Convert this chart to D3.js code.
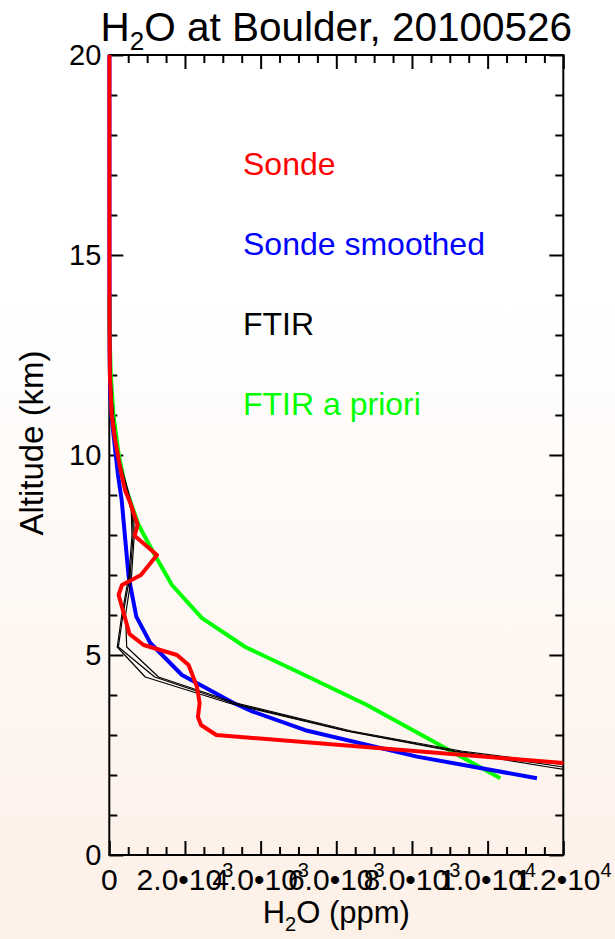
<!DOCTYPE html>
<html>
<head>
<meta charset="utf-8">
<script src="https://cdn.jsdelivr.net/npm/d3@7"></script>
<style>
html, body { margin: 0; padding: 0; }
body { width: 615px; height: 939px; overflow: hidden; }
text { font-family: "Liberation Sans", Arial, Helvetica, sans-serif; }
</style>
</head>
<body>
<svg id="chart" width="615" height="939"></svg>
<script>
// altitude (km) / H2O (ppm)
const sondeAlt = [20, 17, 15, 13.5, 12.05, 11.0, 10.4, 9.7, 9.12, 8.8, 8.25, 7.98, 7.5, 7.0, 6.75, 6.5, 5.52, 5.25, 5.0, 4.75, 4.2, 3.8, 3.45, 3.25, 3.0, 2.3, 2.2]
const sondeH2O = [3, 3, 4, 5, 15, 63, 150, 283, 415, 555, 748, 669, 1260, 837, 335, 246, 537, 907, 1789, 2096, 2318, 2387, 2344, 2424, 2828, 12000, 13300]

const smoothAlt = [20, 15, 12.5, 11.5, 10.95, 10.1, 9.5, 8.875, 7.9, 6.96, 5.96, 5.3, 4.5, 3.8, 3.6, 3.12, 2.46, 1.92]
const smoothH2O = [3, 4, 8, 25, 60, 159, 230, 327, 420, 511, 714, 1084, 1921, 3285, 3750, 5180, 8132, 11304]

const ftirAlt = [20, 14, 12, 11, 10, 9.2, 8.6, 8.0, 7.0, 6.0, 5.2, 4.45, 3.8, 3.1, 2.6, 2.2, 1.9]
const ftirH2O_1 = [2, 5, 30, 90, 200, 420, 580, 600, 520, 330, 210, 950, 3150, 6250, 9050, 11600, 13800]
const ftirH2O_2 = [2, 5, 35, 100, 215, 440, 610, 630, 550, 360, 240, 1200, 3250, 6300, 9150, 12000, 14400]
const ftirH2O_3 = [2, 5, 40, 110, 230, 470, 640, 660, 590, 430, 460, 1300, 3350, 6400, 9300, 12500, 15200]

const aprioriAlt = [14, 13, 12, 11, 10, 9.2, 8.25, 7.55, 6.75, 5.92, 5.2, 4.55, 3.75, 1.92]
const aprioriH2O = [5, 10, 40, 110, 250, 423, 775, 1172, 1656, 2450, 3595, 5048, 6811, 10335]

const xMajor = [0, 2000, 4000, 6000, 8000, 10000, 12000]
const yMajor = [0, 5, 10, 15, 20]

const legendNames = ['Sonde', 'Sonde smoothed', 'FTIR', 'FTIR a priori']
const legendColors = ['#ff0000', '#0000ff', '#000000', '#00ff00']

const W = 615, H = 939
const plot = {left: 109.3, right: 563.3, top: 55, bottom: 855}

const svg = d3.select('#chart')

// background fades from white to a pale peach
const defs = svg.append('defs')
const grad = defs.append('linearGradient').attr('id', 'bg').attr('x1', 0).attr('y1', 0).attr('x2', 0).attr('y2', 1)
grad.append('stop').attr('offset', '0%').attr('stop-color', '#ffffff')
grad.append('stop').attr('offset', '33%').attr('stop-color', '#ffffff')
grad.append('stop').attr('offset', '100%').attr('stop-color', '#fdf0e7')
svg.append('rect').attr('width', W).attr('height', H).attr('fill', 'url(#bg)')

defs.append('clipPath').attr('id', 'clip')
    .append('rect')
    .attr('x', plot.left - 3).attr('y', plot.top - 3)
    .attr('width', plot.right - plot.left + 3).attr('height', plot.bottom - plot.top + 6)

const x = d3.scaleLinear().domain([0, 12000]).range([plot.left, plot.right])
const y = d3.scaleLinear().domain([0, 20]).range([plot.bottom, plot.top])

// ticks on all four sides, pointing inward
const axes = svg.append('g')
const addTicks = (axis, tx, ty, vals, size) => {
    const g = axes.append('g').attr('transform', `translate(${tx},${ty})`)
        .call(axis.tickValues(vals).tickSize(size).tickSizeOuter(0).tickFormat(''))
    g.select('.domain').remove()
    g.selectAll('line').attr('stroke', '#000').attr('stroke-width', 2)
}
const xMinor = d3.range(0, 12001, 500).filter(v => v % 2000)
const yMinor = d3.range(0, 21, 1).filter(v => v % 5)
addTicks(d3.axisBottom(x), 0, plot.bottom, xMinor, -8)
addTicks(d3.axisBottom(x), 0, plot.bottom, xMajor, -14)
addTicks(d3.axisTop(x), 0, plot.top, xMinor, -8)
addTicks(d3.axisTop(x), 0, plot.top, xMajor, -14)
addTicks(d3.axisLeft(y), plot.left, 0, yMinor, -8)
addTicks(d3.axisLeft(y), plot.left, 0, yMajor, -14)
addTicks(d3.axisRight(y), plot.right, 0, yMinor, -8)
addTicks(d3.axisRight(y), plot.right, 0, yMajor, -14)

axes.append('rect')
    .attr('x', plot.left).attr('y', plot.top)
    .attr('width', plot.right - plot.left).attr('height', plot.bottom - plot.top)
    .attr('fill', 'none').attr('stroke', '#000').attr('stroke-width', 2)

// tick labels (they overlap in the original too)
const xLab = svg.append('g').selectAll('text').data(xMajor).join('text')
    .attr('x', d => x(d)).attr('y', 890)
    .attr('text-anchor', 'middle').attr('font-size', 30).attr('fill', '#000')
xLab.each(function(d) {
    const t = d3.select(this)
    if (d === 0) { t.text('0'); return }
    const e = Math.floor(Math.log10(d))
    t.append('tspan').text((d / Math.pow(10, e)).toFixed(1) + '\u202210')
    t.append('tspan').attr('dy', -13).attr('font-size', 20).text(e)
})

svg.append('g').selectAll('text').data(yMajor).join('text')
    .attr('x', plot.left - 8).attr('y', d => y(d) + 10)
    .attr('text-anchor', 'end').attr('font-size', 29).attr('fill', '#000')
    .text(d => d)

// titles
const title = svg.append('text').attr('x', (plot.left + plot.right) / 2).attr('y', 41)
    .attr('text-anchor', 'middle').attr('font-size', 40.5)
title.append('tspan').text('H')
title.append('tspan').attr('dy', 9).attr('font-size', 26).text('2')
title.append('tspan').attr('dy', -9).text('O at Boulder, 20100526')

const xTitle = svg.append('text').attr('x', (plot.left + plot.right) / 2).attr('y', 923)
    .attr('text-anchor', 'middle').attr('font-size', 31)
xTitle.append('tspan').text('H')
xTitle.append('tspan').attr('dy', 8).attr('font-size', 20).text('2')
xTitle.append('tspan').attr('dy', -8).text('O (ppm)')

svg.append('text').attr('transform', 'translate(43,443) rotate(-90)')
    .attr('text-anchor', 'middle').attr('font-size', 33)
    .text('Altitude (km)')

// profiles
const line = d3.line().x(d => x(d[1])).y(d => y(d[0]))
const pairs = (a, v) => a.map((d, i) => [d, v[i]])
const lines = svg.append('g').attr('clip-path', 'url(#clip)')
    .attr('fill', 'none').attr('stroke-linejoin', 'round')

lines.append('path').attr('d', line(pairs(aprioriAlt, aprioriH2O)))
    .attr('stroke', legendColors[3]).attr('stroke-width', 4)
lines.append('path').attr('d', line(pairs(smoothAlt, smoothH2O)))
    .attr('stroke', legendColors[1]).attr('stroke-width', 4)
;[ftirH2O_1, ftirH2O_2, ftirH2O_3].forEach(v => {
    lines.append('path').attr('d', line(pairs(ftirAlt, v)))
        .attr('stroke', legendColors[2]).attr('stroke-width', 1.2)
})
lines.append('path').attr('d', line(pairs(sondeAlt, sondeH2O)))
    .attr('stroke', legendColors[0]).attr('stroke-width', 4)

// legend as plain coloured words
svg.append('g').selectAll('text').data(legendNames).join('text')
    .attr('x', 243).attr('y', (d, i) => 175 + i * 80)
    .attr('font-size', 32)
    .attr('fill', (d, i) => legendColors[i])
    .text(d => d)
</script>
</body>
</html>
